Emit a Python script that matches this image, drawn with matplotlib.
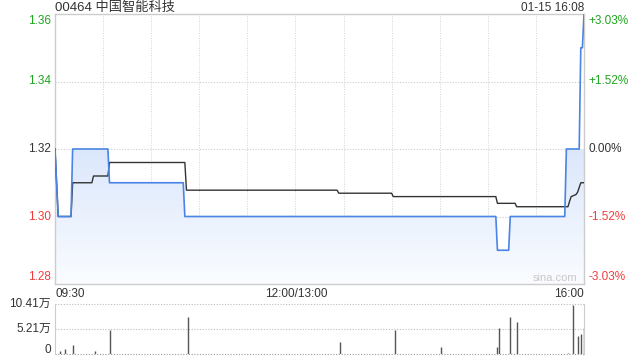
import numpy as np
import matplotlib.pyplot as plt
from matplotlib.colors import LinearSegmentedColormap

plt.rcParams['font.family'] = ['Liberation Sans', 'Noto Sans CJK SC', 'DejaVu Sans']

TITLE = "00464 中国智能科技"
STAMP = "01-15 16:08"
PREV_CLOSE = 1.32

# minutes since 09:30 (lunch break removed), 330 = 16:00
price_t = [0, 2, 10, 11, 33, 34, 80, 81, 275, 276, 283, 284, 318, 319, 327, 328, 329, 330]
price_v = [1.32, 1.30, 1.30, 1.32, 1.32, 1.31, 1.31, 1.30, 1.30, 1.29, 1.29, 1.30,
           1.30, 1.32, 1.32, 1.35, 1.35, 1.36]

avg_t = [0, 2, 10, 11, 23, 24, 33, 34, 81, 82, 176, 177, 210, 211, 275, 276,
         287, 288, 320, 321, 322, 325, 326, 328, 330]
avg_v = [1.32, 1.30, 1.30, 1.31, 1.31, 1.312, 1.312, 1.316, 1.316, 1.3078, 1.3078,
         1.3069, 1.3069, 1.3059, 1.3059, 1.3039, 1.3039, 1.3029, 1.3029, 1.3045,
         1.3059, 1.3065, 1.3072, 1.310, 1.310]

vol_t = [3, 6, 11, 25, 34, 83, 178, 212, 241, 276, 277, 284, 288, 320, 323, 326, 328, 330]
vol_v = [0.7, 1.0, 1.9, 0.6, 5.0, 7.7, 2.5, 5.0, 1.5, 1.4, 5.4, 7.7, 6.7, 0.3,
         10.2, 3.7, 4.2, 5.4]  # 万

y_ticks = [1.36, 1.34, 1.32, 1.30, 1.28]
vol_ticks = [10.41, 5.21, 0]
time_labels = ["09:30", "12:00/13:00", "16:00"]

GREEN = "#1fa51f"
RED = "#f03c3c"
DARK = "#333333"
GRID = "#cccccc"
BLUE = "#4a84e4"

W, H = 640, 360
fig = plt.figure(figsize=(6.4, 3.6), dpi=100)


def box(l, t, r, b):
    return [l / W, 1 - b / H, (r - l) / W, (b - t) / H]


ax = fig.add_axes(box(55, 14, 584, 284))
ax.set_xlim(0, 330)
ax.set_ylim(1.28, 1.36)
ax.set_xticks([])
ax.set_yticks([])
for s in ax.spines.values():
    s.set_color(GRID)
    s.set_linewidth(1)

for m in range(30, 330, 30):
    ax.axvline(m, color="#d4d4d4", lw=0.7, ls=(0, (1, 1.5)), zorder=1)
for v in [1.30, 1.32, 1.34]:
    ax.axhline(v, color=GRID, lw=0.8, ls=(0, (1, 1.5)), zorder=1)

# gradient fill under price
poly = ax.fill_between(price_t, price_v, 1.28, color="none", lw=0)
cmap = LinearSegmentedColormap.from_list("f", ["#fafcff", "#dbe7fb"])
grad = np.linspace(0, 1, 256).reshape(-1, 1)
img = ax.imshow(grad, cmap=cmap, aspect="auto", origin="lower",
                extent=[0, 330, 1.28, 1.32], zorder=2)
img.set_clip_path(poly.get_paths()[0], transform=ax.transData)

ax.plot(price_t, price_v, color=BLUE, lw=1.2, zorder=4)
ax.plot(avg_t, avg_v, color=DARK, lw=1.0, zorder=3)


def col(v):
    if v > PREV_CLOSE + 1e-9:
        return GREEN
    if v < PREV_CLOSE - 1e-9:
        return RED
    return DARK


for v in y_ticks:
    y = v
    if v == y_ticks[0]:
        y = v - 0.002
    elif v == y_ticks[-1]:
        y = v + 0.002
    pct = (v / PREV_CLOSE - 1) * 100
    ptxt = "0.00%" if abs(pct) < 1e-9 else "%+.2f%%" % pct
    ax.text(-0.008, y, "%.2f" % v, transform=ax.get_yaxis_transform(),
            ha="right", va="center", fontsize=8.5, color=col(v))
    ax.text(1.008, y, ptxt, transform=ax.get_yaxis_transform(),
            ha="left", va="center", fontsize=8.5, color=col(v))

ax.text(0.945, 0.005, "sina.com", ha="center", va="bottom", fontsize=8,
        color="#c8c8c8", transform=ax.transAxes, zorder=5)

fig.text(55 / W, 1 - 8 / H, TITLE, ha="left", va="center", fontsize=9.5, color=DARK)
fig.text(584 / W, 1 - 8 / H, STAMP, ha="right", va="center", fontsize=8.5, color=DARK)

ty = 1 - 294 / H
fig.text(55 / W, ty, time_labels[0], ha="left", va="center", fontsize=8.5, color=DARK)
fig.text(296 / W, ty, time_labels[1], ha="center", va="center", fontsize=8.5, color=DARK)
fig.text(584 / W, ty, time_labels[2], ha="right", va="center", fontsize=8.5, color=DARK)

# volume panel
vx = fig.add_axes(box(55, 304, 584, 354))
vx.set_xlim(0, 330)
vx.set_ylim(0, 10.41)
vx.set_xticks([])
vx.set_yticks([])
for k in ["top", "bottom"]:
    vx.spines[k].set_visible(False)
for k in ["left", "right"]:
    vx.spines[k].set_color(GRID)
for v in vol_ticks:
    vx.axhline(v, color="#bbbbbb" if v else "#999999", lw=0.8, ls=(0, (1, 1.5)),
               clip_on=False)
vx.vlines(vol_t, 0, vol_v, color="#555555", lw=1.0)
for v in vol_ticks:
    y = v + 0.8 if v == 0 else v
    txt = "0" if v == 0 else "%.2f万" % v
    vx.text(-0.008, y, txt, transform=vx.get_yaxis_transform(),
            ha="right", va="center", fontsize=8.5, color=DARK)

fig.savefig("out.png", dpi=100)
